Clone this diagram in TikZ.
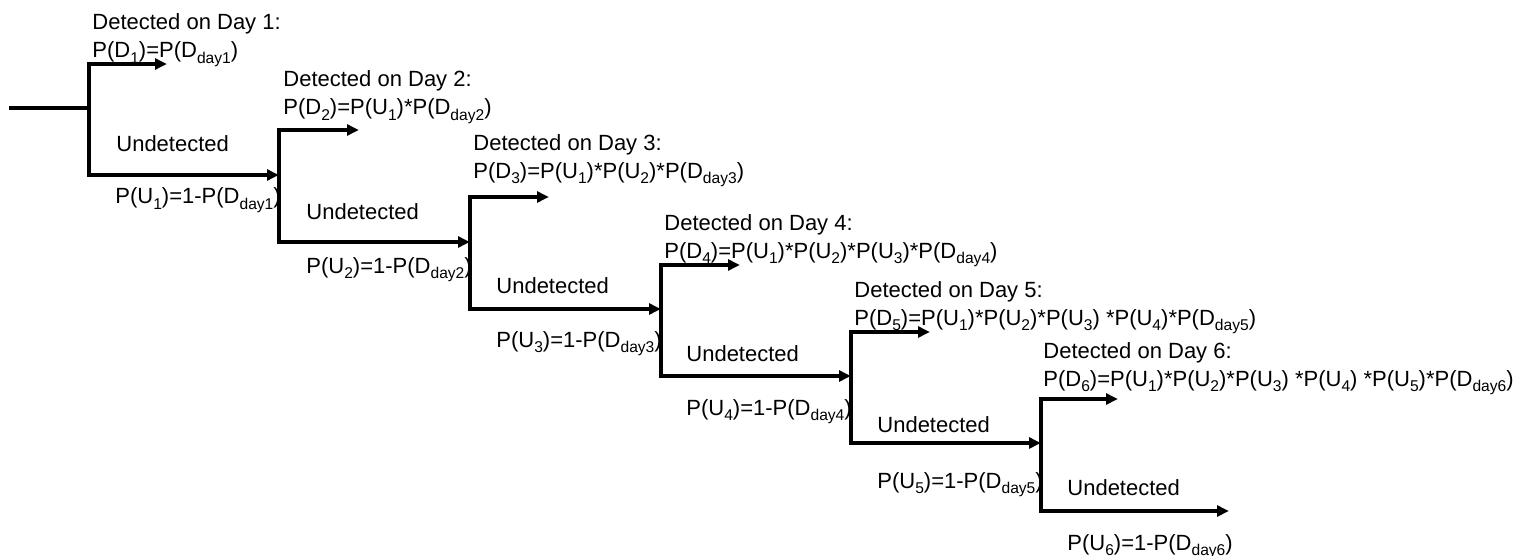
\documentclass[tikz,border=0pt]{standalone}
\usepackage{fontspec}
\setmainfont{Liberation Sans}
\usetikzlibrary{arrows.meta}
% lowered, smaller index text
\newcommand\idx[1]{\raisebox{-2.6pt}{\fontsize{7.8}{8}\selectfont #1}}
\begin{document}
\begin{tikzpicture}[x=0.5pt,y=-0.5pt,
  stem/.style={line width=1.6pt, line join=miter, line cap=rect},
  branch/.style={stem, -{Triangle[length=6pt,width=5.4pt]}},
  lbl/.style={anchor=base west, inner sep=0pt, align=left,
              font=\fontsize{11}{14}\selectfont}]
\useasboundingbox (0,0) rectangle (1532,556);

% split points, upper corners, lower corners, ends of the detected arrows
\coordinate (s)  at (11,108);
\coordinate (j1) at (89,108);   \coordinate (t1) at (89,64);   \coordinate (b1) at (89,175);   \coordinate (d1) at (167,64);
\coordinate (j2) at (279,175);  \coordinate (t2) at (279,130); \coordinate (b2) at (279,242);  \coordinate (d2) at (359,130);
\coordinate (j3) at (470,242);  \coordinate (t3) at (470,197); \coordinate (b3) at (470,309);  \coordinate (d3) at (549,197);
\coordinate (j4) at (661,309);  \coordinate (t4) at (661,265); \coordinate (b4) at (661,376);  \coordinate (d4) at (740,265);
\coordinate (j5) at (851,376);  \coordinate (t5) at (851,332); \coordinate (b5) at (851,443);  \coordinate (d5) at (930,332);
\coordinate (j6) at (1041,443); \coordinate (t6) at (1041,399);\coordinate (b6) at (1041,511); \coordinate (d6) at (1118,399);
\coordinate (e)  at (1229,511);

% tree
\draw[stem] (s) -- (j1);
\draw[branch] (j1) -- (t1) -- (d1);
\draw[branch] (j1) -- (b1) -- (j2);
\draw[branch] (j2) -- (t2) -- (d2);
\draw[branch] (j2) -- (b2) -- (j3);
\draw[branch] (j3) -- (t3) -- (d3);
\draw[branch] (j3) -- (b3) -- (j4);
\draw[branch] (j4) -- (t4) -- (d4);
\draw[branch] (j4) -- (b4) -- (j5);
\draw[branch] (j5) -- (t5) -- (d5);
\draw[branch] (j5) -- (b5) -- (j6);
\draw[branch] (j6) -- (t6) -- (d6);
\draw[branch] (j6) -- (b6) -- (e);

% detected labels (placed by the baseline of their second line)
\node[lbl] (D1) at (92,58)   {Detected on Day 1:\\P(D\idx{1})=P(D\idx{day1})};
\node[lbl] (D2) at (283,115) {Detected on Day 2:\\P(D\idx{2})=P(U\idx{1})*P(D\idx{day2})};
\node[lbl] (D3) at (473,178) {Detected on Day 3:\\P(D\idx{3})=P(U\idx{1})*P(U\idx{2})*P(D\idx{day3})};
\node[lbl] (D4) at (664,258) {Detected on Day 4:\\P(D\idx{4})=P(U\idx{1})*P(U\idx{2})*P(U\idx{3})*P(D\idx{day4})};
\node[lbl] (D5) at (854,325) {Detected on Day 5:\\P(D\idx{5})=P(U\idx{1})*P(U\idx{2})*P(U\idx{3}) *P(U\idx{4})*P(D\idx{day5})};
\node[lbl] (D6) at (1043,386){Detected on Day 6:\\P(D\idx{6})=P(U\idx{1})*P(U\idx{2})*P(U\idx{3}) *P(U\idx{4}) *P(U\idx{5})*P(D\idx{day6})};

% undetected labels
\node[lbl] (N1) at (116,152)  {Undetected};
\node[lbl] (N2) at (306,220)  {Undetected};
\node[lbl] (N3) at (496,293)  {Undetected};
\node[lbl] (N4) at (686,361)  {Undetected};
\node[lbl] (N5) at (877,432)  {Undetected};
\node[lbl] (N6) at (1067,495) {Undetected};

\node[lbl] (U1) at (115,204)  {P(U\idx{1})=1-P(D\idx{day1})};
\node[lbl] (U2) at (306,273)  {P(U\idx{2})=1-P(D\idx{day2})};
\node[lbl] (U3) at (496,347)  {P(U\idx{3})=1-P(D\idx{day3})};
\node[lbl] (U4) at (686,415)  {P(U\idx{4})=1-P(D\idx{day4})};
\node[lbl] (U5) at (877,488)  {P(U\idx{5})=1-P(D\idx{day5})};
\node[lbl] (U6) at (1067,550) {P(U\idx{6})=1-P(D\idx{day6})};
\end{tikzpicture}
\end{document}
